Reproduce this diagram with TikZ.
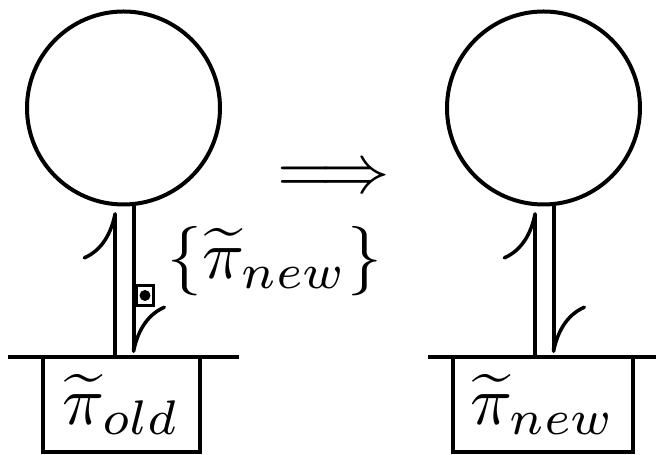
\documentclass[tikz,border=0pt]{standalone}
\usepackage{amsmath}
\usepackage{graphicx}
\usetikzlibrary{arrows.meta,positioning,calc}

\newcommand{\bigmath}[1]{\scalebox{3.95}{$#1$}}

\begin{document}
\begin{tikzpicture}[
  line width=0.08cm,
  ball/.style={draw, circle, minimum size=3.86cm, inner sep=0pt, outer sep=0pt},
  pibox/.style={draw, minimum height=1.9cm, inner sep=0pt, outer sep=0pt},
  stem/.style={-{Computer Modern Rightarrow[harpoon, length=0.95cm, width=1.3cm, line width=0.07cm]}},
  marker/.style={draw, line width=0.045cm, minimum width=0.34cm, minimum height=0.4cm, inner sep=0pt}
]
\useasboundingbox (0,0) rectangle (13.12,9.1);

% -------- before --------
\node[ball] (ballL) at (2.47,6.94) {};
\coordinate (barLw) at (0.16,1.96);
\coordinate (barLe) at (4.78,1.96);
\draw (barLw) -- (barLe);
\node[pibox, minimum width=3.14cm, anchor=north] (boxL) at (2.43,1.96) {\bigmath{\widetilde{\pi}_{old}}};
\draw[stem, shorten >=0.16cm] (ballL.-95.65 |- barLw) -- (ballL.-95.65);
\draw[stem, shorten >=0.08cm] (ballL.-84.35) -- (ballL.-84.35 |- barLw);
\node[marker] (mark) at (2.90,3.19) {};
\fill (mark.center) circle (0.11);
\node (update) at (5.5,3.88) {\bigmath{\{\widetilde{\pi}_{new}\}}};

% -------- arrow --------
\node (implies) at (6.67,5.5) {\bigmath{\Longrightarrow}};

% -------- after --------
\node[ball] (ballR) at (10.87,6.94) {};
\coordinate (barRw) at (8.56,1.96);
\coordinate (barRe) at (13.18,1.96);
\draw (barRw) -- (barRe);
\node[pibox, minimum width=3.6cm, anchor=north] (boxR) at (10.86,1.96) {\bigmath{\widetilde{\pi}_{new}}};
\draw[stem, shorten >=0.16cm] (ballR.-95.65 |- barRw) -- (ballR.-95.65);
\draw[stem, shorten >=0.08cm] (ballR.-84.35) -- (ballR.-84.35 |- barRw);

\end{tikzpicture}
\end{document}
